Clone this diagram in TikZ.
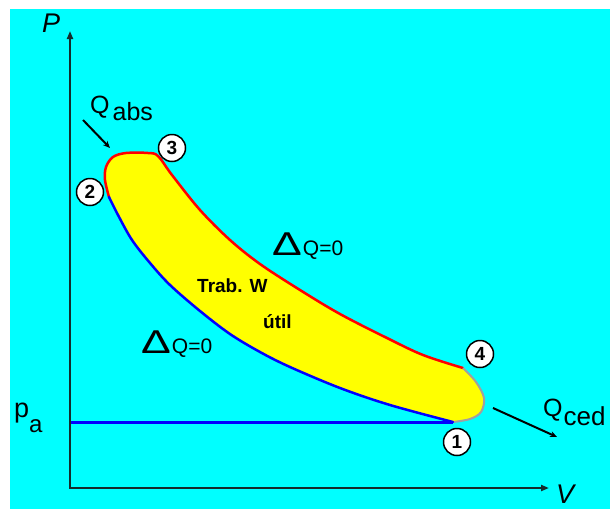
\documentclass[tikz,border=0pt]{standalone}
\usepackage{fontspec}
\setmainfont{Liberation Sans}
\usetikzlibrary{arrows.meta}
\definecolor{bgcyan}{RGB}{0,255,255}
\definecolor{axiscol}{RGB}{20,45,45}
\definecolor{fillyel}{RGB}{255,255,0}
\definecolor{redc}{RGB}{255,0,0}
\definecolor{bluec}{RGB}{0,0,255}
\definecolor{grayc}{RGB}{160,160,160}
\begin{document}
\begin{tikzpicture}[x=1pt,y=-1pt,
  axisline/.style={line width=2.2pt, draw=axiscol, line join=miter},
  harrow/.style={line width=2pt, draw=black, -{Stealth[length=7pt,width=6pt]}},
  statept/.style={circle, draw=black, line width=1.5pt, fill=white, minimum size=27pt, inner sep=0pt, font=\fontsize{19}{19}\selectfont\bfseries},
  lbl/.style={inner sep=0pt, anchor=base west},
  curve/.style={line width=2.5pt, line cap=round, line join=round}]
\useasboundingbox (0,0) rectangle (610,509);
\fill[bgcyan] (10,9) rectangle (610,509);

% yellow cycle area
\fill[fillyel] plot[smooth, tension=0.55] coordinates {(109,197) (105,180) (106,167) (113,157) (126,153) (148,153) (158,156) (172,175) (200,210) (230,240) (260,264) (300,290) (340,314) (387,338) (423,355) (463,368)}
  -- plot[smooth, tension=0.55] coordinates {(463,368) (476,382) (484,398) (481,412) (470,419) (453,422)}
  -- plot[smooth, tension=0.55] coordinates {(453,422) (390,405) (340,388) (290,367) (260,352) (230,334) (200,311) (170,285) (150,263) (132,240) (118,215) (109,197)} -- cycle;

% boundary strokes
\draw[curve, redc] plot[smooth, tension=0.55] coordinates {(109,197) (105,180) (106,167) (113,157) (126,153) (148,153) (158,156) (172,175) (200,210) (230,240) (260,264) (300,290) (340,314) (387,338) (423,355) (463,368)};
\draw[line width=2pt, grayc] plot[smooth, tension=0.55] coordinates {(463,368) (476,382) (484,398) (481,412) (470,419) (453,422)};
\draw[curve, bluec] plot[smooth, tension=0.55] coordinates {(453,422) (390,405) (340,388) (290,367) (260,352) (230,334) (200,311) (170,285) (150,263) (132,240) (118,215) (109,197)};

% atmospheric pressure line
\coordinate (pa) at (70,422);
\coordinate (p1) at (453,422);
\draw[line width=3pt, bluec] (pa) -- (p1);

% axes
\coordinate (O) at (70,488);
\coordinate (Ptop) at (70,31);
\coordinate (Vend) at (549,488);
\draw[axisline, {Triangle[length=8pt,width=6pt]}-{Triangle[length=8pt,width=6pt]}] (Ptop) -- (O) -- (Vend);

% axis labels
\node[lbl, font=\fontsize{27}{27}\selectfont\itshape] (Plab) at (42,32) {P};
\node[lbl, font=\fontsize{27}{27}\selectfont\itshape] (Vlab) at (556,503) {V};
\node[lbl, font=\fontsize{27}{27}\selectfont] (palab) at (14,417) {p\raisebox{-15pt}{\fontsize{24}{24}\selectfont a}};

% heat labels and arrows
\node[lbl, font=\fontsize{25}{25}\selectfont] (qabs) at (90,113) {Q\kern3pt\raisebox{-7pt}{abs}};
\coordinate (qa1) at (83,120);
\coordinate (qa2) at (110,148);
\draw[harrow] (qa1) -- (qa2);
\node[lbl, font=\fontsize{25}{25}\selectfont] (qced) at (543,416) {Q\kern1pt\raisebox{-9pt}{\fontsize{26}{26}\selectfont ced}};
\coordinate (qc1) at (493,408);
\coordinate (qc2) at (557,437);
\draw[harrow] (qc1) -- (qc2);

% adiabatic labels
\node[lbl] (dq1) at (272,255) {\fontsize{33}{33}\selectfont\scalebox{1.35}[1]{Δ}\kern1pt\fontsize{21}{21}\selectfont Q=0};
\node[lbl] (dq2) at (141,353) {\fontsize{33}{33}\selectfont\scalebox{1.35}[1]{Δ}\kern1pt\fontsize{21}{21}\selectfont Q=0};

% work labels
\node[lbl, font=\fontsize{19}{19}\selectfont\bfseries] (trab) at (197,292) {Trab. W};
\node[lbl, font=\fontsize{19}{19}\selectfont\bfseries] (util) at (263,328) {útil};

% state points
\node[statept] (n1) at (457,442) {1};
\node[statept] (n2) at (90,192) {2};
\node[statept] (n3) at (172,148) {3};
\node[statept] (n4) at (480,354) {4};
\end{tikzpicture}
\end{document}
